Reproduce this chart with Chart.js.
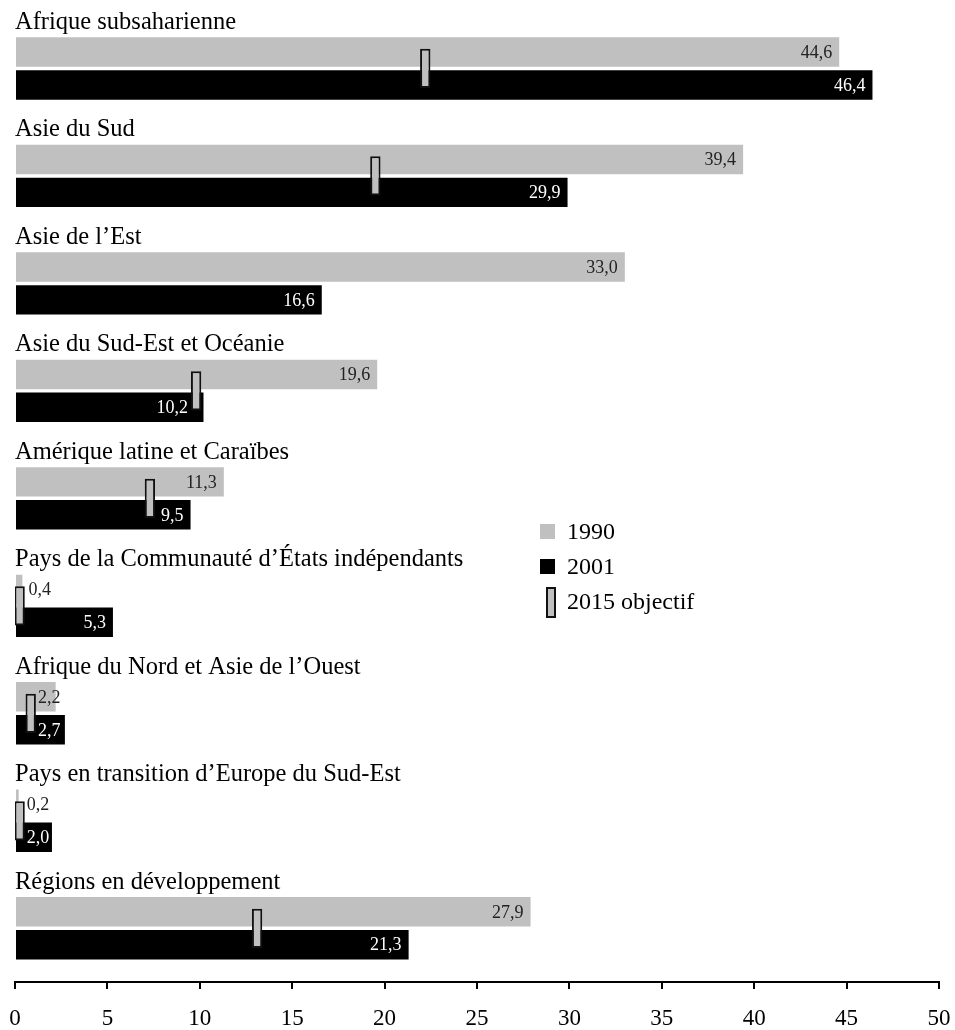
<!DOCTYPE html>
<html lang="fr">
<head>
<meta charset="utf-8">
<title>Proportion de la population vivant avec moins d'un dollar par jour</title>
<script src="https://cdn.jsdelivr.net/npm/chart.js@4.4.1/dist/chart.umd.min.js"></script>
<style>
    html, body { margin: 0; padding: 0; background: #fff; }
    #wrap { position: relative; width: 955px; height: 1030px; }
</style>
</head>
<body>
<div id="wrap"><canvas id="povertyChart"></canvas></div>
<script>
// ======================
// Data
// ======================
const regions = [
    'Afrique subsaharienne',
    'Asie du Sud',
    'Asie de l\u2019Est',
    'Asie du Sud-Est et Océanie',
    'Amérique latine et Caraïbes',
    'Pays de la Communauté d\u2019États indépendants',
    'Afrique du Nord et Asie de l\u2019Ouest',
    'Pays en transition d\u2019Europe du Sud-Est',
    'Régions en développement'
];
const values1990 = [44.6, 39.4, 33.0, 19.6, 11.3, 0.4, 2.2, 0.2, 27.9];
const values2001 = [46.4, 29.9, 16.6, 10.2, 9.5, 5.3, 2.7, 2.0, 21.3];
const target2015 = [22.2, 19.5, null, 9.8, 7.3, 0.25, 0.85, 0.25, 13.1];
const xTicks = [0, 5, 10, 15, 20, 25, 30, 35, 40, 45, 50];

const GREY = '#c0c0c0';
const SERIF = "'Liberation Serif', 'Times New Roman', serif";
const markerHalf = 0.28;

Chart.defaults.font.family = SERIF;
Chart.defaults.color = '#000';

// ======================
// Value labels (drawn right after each bar dataset, so markers sit on top)
// labels are nudged so they don't sit under the 2015 marker
// ======================
const valueLabels = {
    id: 'valueLabels',
    afterDatasetDraw(chart, args) {
        if (args.index > 1) return;
        const ctx = chart.ctx;
        const meta = args.meta;
        const data = chart.data.datasets[args.index].data;
        const markers = chart.getDatasetMeta(2).data;
        ctx.save();
        ctx.font = '18px ' + SERIF;
        ctx.textBaseline = 'middle';
        ctx.textAlign = 'left';
        meta.data.forEach((bar, i) => {
            const text = data[i].toFixed(1).replace('.', ',');
            const w = ctx.measureText(text).width;
            const len = bar.x - bar.base;
            let left = len >= w + 12 ? bar.x - 7 - w : bar.x + 6;

            const m = markers[i];
            if (target2015[i] !== null && m) {
                const m0 = Math.min(m.x, m.base) - 2;
                const m1 = Math.max(m.x, m.base) + 2;
                if (left < m1 && left + w > m0) {
                    if (m0 - 1 - w >= bar.base + 3) {
                        left = m0 - 1 - w;
                    } else {
                        left = m1;
                    }
                }
            }

            const inside = left + w <= bar.x;
            ctx.fillStyle = (args.index === 1 && inside) ? '#fff' : '#222';
            ctx.fillText(text, left, bar.y + 1);
        });
        ctx.restore();
    }
};

// ======================
// Legend
// ======================
const sideLegend = {
    id: 'sideLegend',
    afterDraw(chart) {
        const ctx = chart.ctx;
        const x = 540;
        ctx.save();
        ctx.font = '24px ' + SERIF;
        ctx.textBaseline = 'middle';
        ctx.textAlign = 'left';

        ctx.fillStyle = GREY;
        ctx.fillRect(x, 524, 15, 15);
        ctx.fillStyle = '#000';
        ctx.fillRect(x, 559, 15, 15);

        ctx.fillStyle = GREY;
        ctx.fillRect(x + 6, 587, 10, 31);
        ctx.strokeStyle = '#111';
        ctx.lineWidth = 2;
        ctx.strokeRect(x + 7, 588, 8, 29);

        ctx.fillStyle = '#000';
        ctx.fillText('1990', x + 27, 533);
        ctx.fillText('2001', x + 27, 568);
        ctx.fillText('2015 objectif', x + 27, 603);
        ctx.restore();
    }
};

// ======================
// Chart
// ======================
new Chart(document.getElementById('povertyChart'), {
    type: 'bar',
    data: {
        labels: regions,
        datasets: [
            {
                label: '1990',
                data: values1990,
                backgroundColor: GREY,
                borderWidth: 0,
                categoryPercentage: 0.613,
                barPercentage: 0.894,
                order: 1
            },
            {
                label: '2001',
                data: values2001,
                backgroundColor: '#000',
                borderWidth: 0,
                categoryPercentage: 0.613,
                barPercentage: 0.894,
                order: 2
            },
            {
                label: '2015 objectif',
                data: target2015.map(t => t === null ? null : [t - markerHalf, t + markerHalf]),
                backgroundColor: GREY,
                borderColor: '#111',
                borderWidth: 2,
                borderSkipped: false,
                grouped: false,
                categoryPercentage: 1,
                barPercentage: 0.365,
                order: 0
            }
        ]
    },
    options: {
        indexAxis: 'y',
        responsive: true,
        maintainAspectRatio: false,
        animation: false,
        events: [],
        layout: {
            padding: { left: 15, right: 16, top: 13, bottom: 0 }
        },
        scales: {
            x: {
                type: 'linear',
                min: 0,
                max: 50,
                afterBuildTicks(scale) {
                    scale.ticks = xTicks.map(v => ({ value: v }));
                },
                afterFit(scale) {
                    scale.height = 48;
                    scale.paddingLeft = 0;
                    scale.paddingRight = 0;
                },
                ticks: {
                    font: { size: 23 },
                    color: '#000',
                    padding: 16,
                    maxRotation: 0
                },
                grid: {
                    drawOnChartArea: false,
                    drawTicks: true,
                    tickLength: 7,
                    color: '#000',
                    lineWidth: 2
                },
                border: { display: true, color: '#000', width: 2 }
            },
            y: {
                afterFit(scale) {
                    scale.width = 0;
                },
                grid: { display: false },
                border: { display: false },
                ticks: {
                    mirror: true,
                    padding: 0,
                    labelOffset: -46,
                    font: { size: 24.5 },
                    color: '#000'
                }
            }
        },
        plugins: {
            legend: { display: false },
            tooltip: { enabled: false }
        }
    },
    plugins: [valueLabels, sideLegend]
});
</script>
</body>
</html>
